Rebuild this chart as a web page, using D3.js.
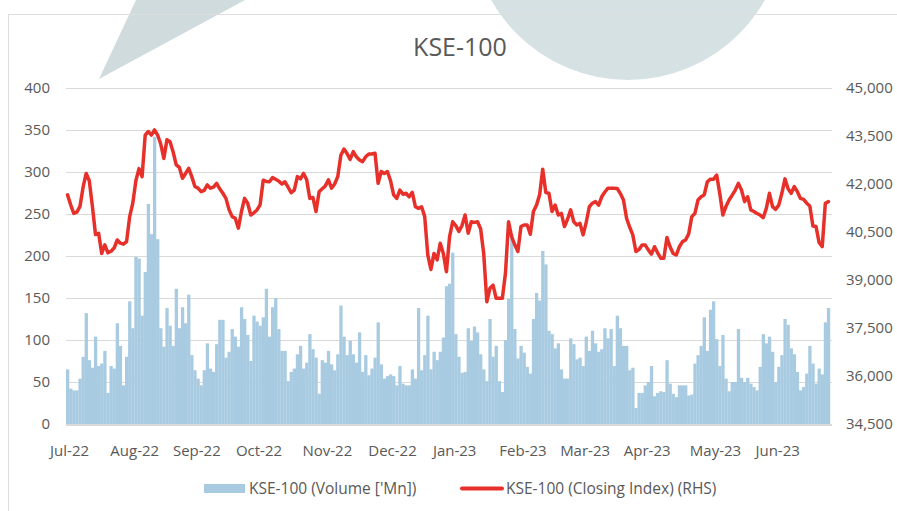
<!DOCTYPE html>
<html>
<head>
<meta charset="utf-8">
<script src="https://cdn.jsdelivr.net/npm/d3@7"></script>
<style>
  body { margin: 0; background: #fff; }
  text { font-family: "Open Sans", sans-serif; fill: #595959; }
</style>
</head>
<body>
<div id="chart"></div>
<script>
// first trading day of each month (bar index) and its label
const monthStarts = [0, 21, 41, 61, 83, 104, 124, 146, 166, 186, 208, 228];
const monthLabels = ["Jul-22", "Aug-22", "Sep-22", "Oct-22", "Nov-22", "Dec-22",
  "Jan-23", "Feb-23", "Mar-23", "Apr-23", "May-23", "Jun-23"];

const volTicks = [0, 50, 100, 150, 200, 250, 300, 350, 400];
const idxTicks = [34500, 36000, 37500, 39000, 40500, 42000, 43500, 45000];

// daily traded volume, mn shares
const volume = [
  65, 42, 40, 40, 54, 80, 132, 76, 67, 104, 69, 72, 87, 37, 69, 66, 120, 93, 46, 80,
  146, 114, 199, 197, 129, 181, 262, 226, 342, 220, 114, 92, 138, 117, 93, 161, 114, 139, 120, 154,
  82, 64, 54, 46, 64, 96, 66, 62, 95, 124, 124, 79, 86, 113, 104, 92, 139, 125, 106, 75,
  129, 122, 117,
  127, 161, 104, 139, 150, 113, 87, 87, 51, 62, 66, 83, 93, 66, 73, 107, 89, 79, 36, 76,
  73, 87, 71, 64, 83, 141, 104, 82, 99, 83, 73, 109, 62, 82, 58, 66, 79, 121, 71, 54,
  57, 59, 57, 46, 69, 48, 46, 46, 65, 54, 138, 64, 82, 129, 65, 86, 76, 86, 103, 164,
  167, 204, 107, 80,
  61, 62, 114, 99, 116, 109, 83, 65, 51, 125, 80, 93, 51, 38, 100, 149, 226, 113, 78, 93,
  85, 68, 60, 125, 156, 147, 206, 190, 111, 107, 90, 96, 65, 54, 54, 102, 95, 77, 79, 69,
  104, 87, 111, 96, 86, 89, 114, 102, 113, 69, 129, 114, 93, 93, 64, 67, 19, 37, 37, 46,
  50, 69, 33, 37, 39,
  38, 76, 48, 36, 32, 46, 46, 46, 34, 35, 72, 82, 93, 127, 87, 136, 146, 101, 69, 106,
  54, 39, 50, 50, 113, 55, 50, 55, 48, 44, 40, 68, 107, 96, 104, 86, 50, 68, 82, 125,
  118, 90, 83, 62, 40, 44, 60, 93, 72, 48, 66, 59, 121, 138
];

// KSE-100 closing index
const closing = [
  41660, 41350, 41080, 41120, 41300, 41900, 42330, 42100, 41300, 40420,
  40460, 39830, 40100, 39850, 39900, 40000, 40250, 40150, 40120, 40200,
  40980, 41400, 42100, 42480, 42230, 43530, 43640, 43530, 43690, 43530,
  43250, 42800, 43380, 43320, 43000, 42600, 42520, 42180, 42330, 42490,
  42230, 41920, 41870, 41760, 41800, 41970, 41870, 41900, 42020, 41850,
  41710, 41550, 41200, 40980, 40930, 40620, 41140, 41550, 41400, 41030,
  41100, 41190, 41350,
  42120, 42080, 42070, 42200, 42150, 42090, 42000,
  42070, 41900, 41730, 41810, 42230, 42160, 42330, 42130, 41550, 41580,
  41140, 41760, 41850, 41940, 42130, 41870, 42000, 42230, 42900, 43090,
  42950, 42770, 43010, 42850, 42750, 42700, 42850, 42940, 42940, 42960,
  42020, 42390, 42330, 42390, 42100, 41660, 41550, 41810, 41680, 41710,
  41600, 41740, 41290, 41240, 41290, 40980, 39780, 39330, 39830, 39630,
  40150, 39830, 39260, 40350, 40820, 40700, 40520, 40700, 41030, 40460,
  40820, 40800, 40820, 40600, 39830, 38320, 38740, 38840, 38430, 38430,
  38430, 39210, 40820, 40350, 40100, 39890, 40670, 40720, 40720, 40430,
  41140, 41340, 41660, 42460, 41730, 41710, 41140, 41340, 41030, 41080,
  40670, 40900, 41190, 40820, 40720, 40770, 40410, 40800, 41290, 41400,
  41450, 41340, 41600, 41750, 41870, 41870, 41870, 41860, 41700, 41500,
  40930, 40650, 40410, 39890, 39950, 40090, 40090, 39940, 39810, 40040,
  39850, 39680,
  39680, 40330, 40040, 39830, 39780, 40040, 40200, 40250, 40440, 40980,
  41080, 41500, 41600, 41660, 42070, 42150, 42150, 42280, 41710, 41030,
  41300, 41500, 41650, 41810, 42020, 41810, 41450, 41600, 41190, 41140,
  41080, 41030, 40950, 41240, 41710, 41290, 41210, 41340, 41710, 42160,
  41850, 41710, 41920, 41760, 41550, 41520, 41400, 41310, 40690, 40670,
  40170, 40040, 41400, 41450
];

const width = 897;
const height = 511;
const plot = { left: 66, right: 830, top: 88, bottom: 424 };

const barColor = "#a8cbe1";
const lineColor = "#e8302a";

const svg = d3.select("#chart")
  .append("svg")
  .attr("width", width)
  .attr("height", height);

// faint logo watermark behind the chart
svg.append("polygon")
  .attr("points", "136,0 245,0 99,79")
  .attr("fill", "#d0dbde");
svg.append("circle")
  .attr("cx", 628)
  .attr("cy", -77)
  .attr("r", 157)
  .attr("fill", "#d6e1e4");

// chart frame
svg.append("rect")
  .attr("x", 8.5)
  .attr("y", 14.5)
  .attr("width", 900)
  .attr("height", 520)
  .attr("fill", "none")
  .attr("stroke", "#dedede");

const x = d3.scaleBand()
  .domain(d3.range(volume.length))
  .range([plot.left, plot.right])
  .padding(0);

const yVol = d3.scaleLinear().domain([0, 400]).range([plot.bottom, plot.top]);
const yIdx = d3.scaleLinear().domain([34500, 45000]).range([plot.bottom, plot.top]);

// gridlines
svg.append("g")
  .selectAll("line")
  .data(volTicks.slice(1))
  .join("line")
  .attr("x1", plot.left)
  .attr("x2", plot.right + 2)
  .attr("y1", d => Math.round(yVol(d)) + 0.5)
  .attr("y2", d => Math.round(yVol(d)) + 0.5)
  .attr("stroke", "#d9d9d9")
  .attr("stroke-width", 1);

// volume bars
svg.append("g")
  .selectAll("rect")
  .data(volume)
  .join("rect")
  .attr("x", (d, i) => x(i))
  .attr("width", x.bandwidth() + 0.2)
  .attr("y", d => yVol(d))
  .attr("height", d => yVol(0) - yVol(d))
  .attr("fill", barColor);

// bottom axis line
svg.append("line")
  .attr("x1", plot.left)
  .attr("x2", plot.right + 2)
  .attr("y1", plot.bottom + 1)
  .attr("y2", plot.bottom + 1)
  .attr("stroke", "#d9d9d9")
  .attr("stroke-width", 2);

// closing index line
const line = d3.line()
  .x((d, i) => x(i) + x.bandwidth() / 2)
  .y(d => yIdx(d));

svg.append("path")
  .datum(closing)
  .attr("d", line)
  .attr("fill", "none")
  .attr("stroke", lineColor)
  .attr("stroke-width", 3.5)
  .attr("stroke-linejoin", "round")
  .attr("stroke-linecap", "round");

// left axis
const leftAxis = svg.append("g")
  .attr("transform", `translate(${plot.left},0)`)
  .call(d3.axisLeft(yVol).tickValues(volTicks).tickSize(0).tickPadding(16));
leftAxis.select(".domain").remove();
leftAxis.selectAll("text")
  .style("font-family", "'Open Sans', sans-serif")
  .style("font-size", "15px")
  .attr("fill", "#595959");

// right axis
const rightAxis = svg.append("g")
  .attr("transform", `translate(${plot.right},0)`)
  .call(d3.axisRight(yIdx).tickValues(idxTicks).tickFormat(d3.format(",")).tickSize(0).tickPadding(16));
rightAxis.select(".domain").remove();
rightAxis.selectAll("text")
  .style("font-family", "'Open Sans', sans-serif")
  .style("font-size", "15px")
  .attr("fill", "#595959");

// month labels
svg.append("g")
  .selectAll("text")
  .data(monthStarts)
  .join("text")
  .attr("x", d => x(d) + x.bandwidth() / 2 + 2)
  .attr("y", 456)
  .attr("text-anchor", "middle")
  .style("font-size", "15px")
  .text((d, i) => monthLabels[i]);

// title
svg.append("text")
  .attr("x", 460)
  .attr("y", 56)
  .attr("text-anchor", "middle")
  .style("font-size", "25px")
  .text("KSE-100");

// legend
const legend = svg.append("g");
legend.append("rect")
  .attr("x", 204)
  .attr("y", 484)
  .attr("width", 41)
  .attr("height", 9)
  .attr("fill", barColor);
legend.append("text")
  .attr("x", 249)
  .attr("y", 494)
  .style("font-size", "15.5px")
  .text("KSE-100 (Volume ['Mn])");
legend.append("line")
  .attr("x1", 462)
  .attr("x2", 502)
  .attr("y1", 488.5)
  .attr("y2", 488.5)
  .attr("stroke", lineColor)
  .attr("stroke-width", 4)
  .attr("stroke-linecap", "round");
legend.append("text")
  .attr("x", 506)
  .attr("y", 494)
  .style("font-size", "15.5px")
  .text("KSE-100 (Closing Index) (RHS)");
</script>
</body>
</html>
